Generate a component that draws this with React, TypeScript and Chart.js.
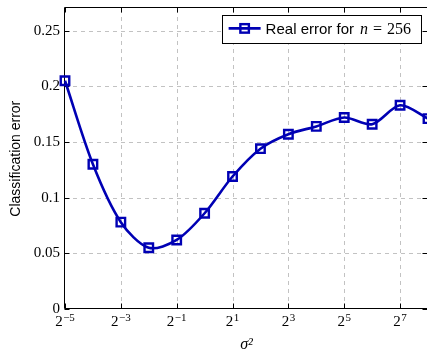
import { useEffect, useRef } from 'react';
import { Chart, registerables } from 'chart.js';

Chart.register(...registerables);

// log2(sigma^2) sample positions and the measured real classification error
const sigmaExponents = [-5, -4, -3, -2, -1, 0, 1, 2, 3, 4, 5, 6, 7, 8];
const realError = [0.205, 0.13, 0.078, 0.055, 0.062, 0.086, 0.119, 0.144, 0.157, 0.164, 0.172, 0.166, 0.183, 0.171];

// axis ticks
const xTickExponents = [-5, -3, -1, 1, 3, 5, 7];
const yTickValues = [0, 0.05, 0.1, 0.15, 0.2, 0.25];
const yTickLabels = ['0', '0.05', '0.1', '0.15', '0.2', '0.25'];

// legend entry
const legendLabel = 'Real error for';
const legendVar = 'n';
const legendEq = '=';
const legendValue = '256';

const LINE_BLUE = '#0000b4';
const GRID_GRAY = '#c2c2c2';
const SERIF = '"Liberation Serif", "DejaVu Serif", serif';
const SANS = '"Liberation Sans", "DejaVu Sans", sans-serif';
const TICK_LEN = 5;

const crisp = (v: number) => Math.round(v) + 0.5;

// pgfplots-like decorations: dashed grid, boxed axis with inner ticks,
// superscript tick labels and a framed legend
const pgfStyle = {
  id: 'pgfStyle',
  beforeDatasetsDraw(chart: any) {
    const { ctx, chartArea: ca, scales } = chart;
    const xs = scales.x;
    const ys = scales.y;
    ctx.save();
    ctx.strokeStyle = GRID_GRAY;
    ctx.lineWidth = 1;
    ctx.setLineDash([4, 4]);
    for (const e of xTickExponents) {
      if (e === xs.min) continue;
      const x = crisp(xs.getPixelForValue(e));
      ctx.beginPath();
      ctx.moveTo(x, ca.bottom);
      ctx.lineTo(x, ca.top);
      ctx.stroke();
    }
    for (const v of yTickValues) {
      if (v === ys.min) continue;
      const y = crisp(ys.getPixelForValue(v));
      ctx.beginPath();
      ctx.moveTo(ca.left, y);
      ctx.lineTo(ca.right, y);
      ctx.stroke();
    }
    ctx.setLineDash([]);

    // frame
    ctx.strokeStyle = '#000';
    ctx.lineWidth = 1;
    const l = crisp(ca.left) - 1;
    const t = crisp(ca.top) - 1;
    const b = crisp(ca.bottom) - 1;
    const r = crisp(ca.right) - 1;
    ctx.beginPath();
    ctx.moveTo(l, t);
    ctx.lineTo(r, t);
    ctx.lineTo(r, b);
    ctx.lineTo(l, b);
    ctx.closePath();
    ctx.stroke();

    // inner tick marks, mirrored on opposite sides
    ctx.beginPath();
    for (const e of xTickExponents) {
      const x = crisp(xs.getPixelForValue(e));
      ctx.moveTo(x, b);
      ctx.lineTo(x, b - TICK_LEN);
      ctx.moveTo(x, t);
      ctx.lineTo(x, t + TICK_LEN);
    }
    for (const v of yTickValues) {
      const y = crisp(ys.getPixelForValue(v));
      ctx.moveTo(l, y);
      ctx.lineTo(l + TICK_LEN, y);
      ctx.moveTo(r, y);
      ctx.lineTo(r - TICK_LEN, y);
    }
    ctx.stroke();
    ctx.restore();
  },
  afterDraw(chart: any) {
    const { ctx, chartArea: ca, scales } = chart;
    const xs = scales.x;
    ctx.save();
    ctx.fillStyle = '#000';
    ctx.textBaseline = 'alphabetic';
    ctx.textAlign = 'left';

    // x tick labels: 2^k
    const baseFont = `15px ${SERIF}`;
    const expFont = `11px ${SERIF}`;
    const baseY = ca.bottom + 16.5;
    for (const e of xTickExponents) {
      const x = xs.getPixelForValue(e);
      const expText = e < 0 ? '\u2212' + Math.abs(e) : String(e);
      ctx.font = baseFont;
      const wb = ctx.measureText('2').width;
      ctx.font = expFont;
      const we = ctx.measureText(expText).width;
      const start = x - (wb + we + 0.5) / 2;
      ctx.font = baseFont;
      ctx.fillText('2', start, baseY);
      ctx.font = expFont;
      ctx.fillText(expText, start + wb + 0.5, baseY - 5);
    }

    // legend box
    const sansFont = `15px ${SANS}`;
    const mathItalic = `italic 16px ${SERIF}`;
    const mathFont = `16px ${SERIF}`;
    ctx.font = sansFont;
    const wLabel = ctx.measureText(legendLabel).width;
    ctx.font = mathItalic;
    const wVar = ctx.measureText(legendVar).width;
    ctx.font = mathFont;
    const wEq = ctx.measureText(legendEq).width;
    const wVal = ctx.measureText(legendValue).width;
    const padL = 7, lineLen = 32, gap = 5, padR = 10;
    const boxW = padL + lineLen + gap + wLabel + 6 + wVar + 5 + wEq + 5 + wVal + padR;
    const boxH = 28;
    const right = ca.right - 7;
    const top = ca.top + 7;
    const left = right - boxW;
    ctx.fillStyle = '#fff';
    ctx.fillRect(Math.round(left), Math.round(top), Math.round(boxW), boxH);
    ctx.strokeStyle = '#000';
    ctx.lineWidth = 1;
    ctx.strokeRect(crisp(left), crisp(top), Math.round(boxW), boxH);

    const cy = top + 13;
    ctx.strokeStyle = LINE_BLUE;
    ctx.lineWidth = 2.6;
    ctx.beginPath();
    ctx.moveTo(left + padL, cy);
    ctx.lineTo(left + padL + lineLen, cy);
    ctx.stroke();
    ctx.lineWidth = 2.4;
    const mx = left + padL + lineLen / 2;
    ctx.strokeRect(mx - 4.25, cy - 4.25, 8.5, 8.5);

    let tx = left + padL + lineLen + gap;
    const ty = top + 18.5;
    ctx.fillStyle = '#000';
    ctx.font = sansFont;
    ctx.fillText(legendLabel, tx, ty);
    tx += wLabel + 6;
    ctx.font = mathItalic;
    ctx.fillText(legendVar, tx, ty);
    tx += wVar + 5;
    ctx.font = mathFont;
    ctx.fillText(legendEq, tx, ty);
    tx += wEq + 5;
    ctx.fillText(legendValue, tx, ty);
    ctx.restore();
  },
};

export default function App() {
  const canvasRef = useRef<HTMLCanvasElement | null>(null);

  useEffect(() => {
    const canvas = canvasRef.current;
    if (!canvas) return;
    const chart = new Chart(canvas, {
      type: 'line',
      data: {
        datasets: [
          {
            label: `${legendLabel} ${legendVar} ${legendEq} ${legendValue}`,
            data: sigmaExponents.map((e, i) => ({ x: e, y: realError[i] })),
            borderColor: LINE_BLUE,
            borderWidth: 2.6,
            tension: 0.3,
            fill: false,
            clip: false,
            pointStyle: 'rect',
            pointRadius: 6,
            pointBorderWidth: 2.4,
            pointBorderColor: LINE_BLUE,
            pointBackgroundColor: 'rgba(0,0,0,0)',
          } as any,
        ],
      },
      options: {
        animation: false,
        responsive: false,
        devicePixelRatio: 1,
        events: [],
        layout: { padding: { top: 6, right: 12, left: 0, bottom: 0 } },
        plugins: {
          legend: { display: false },
          tooltip: { enabled: false },
        },
        scales: {
          x: {
            type: 'linear',
            min: -5,
            max: 8,
            grid: { display: false, drawTicks: false },
            border: { display: false },
            ticks: { display: false },
            title: {
              display: true,
              text: '\u03C3\u00B2',
              color: '#000',
              font: { family: SERIF, size: 16, style: 'italic', lineHeight: 0.8 },
              padding: { top: 0, bottom: 0 },
            },
            afterFit: (scale: any) => {
              scale.height = 42;
              scale.paddingLeft = 0;
              scale.paddingRight = 0;
            },
          },
          y: {
            type: 'linear',
            min: 0,
            max: 0.27,
            grid: { display: false, drawTicks: false },
            border: { display: false },
            afterBuildTicks: (scale: any) => {
              scale.ticks = yTickValues.map((value) => ({ value }));
            },
            ticks: {
              color: '#000',
              padding: 5,
              font: { family: SERIF, size: 15, lineHeight: 0.2 },
              callback: (_v: any, i: number) => yTickLabels[i],
            },
            title: {
              display: true,
              text: 'Classification error',
              color: '#000',
              font: { family: SANS, size: 14 },
              padding: { top: 8, bottom: 0 },
            },
            afterFit: (scale: any) => {
              scale.width = 65;
              scale.paddingTop = 0;
              scale.paddingBottom = 0;
            },
          },
        },
      } as any,
      plugins: [pgfStyle],
    });
    return () => chart.destroy();
  }, []);

  return (
    <div
      style={{
        position: 'fixed',
        left: 0,
        top: 0,
        width: 427,
        height: 351,
        overflow: 'hidden',
        background: '#fff',
      }}
    >
      <canvas ref={canvasRef} width={440} height={351} style={{ display: 'block' }} />
    </div>
  );
}
